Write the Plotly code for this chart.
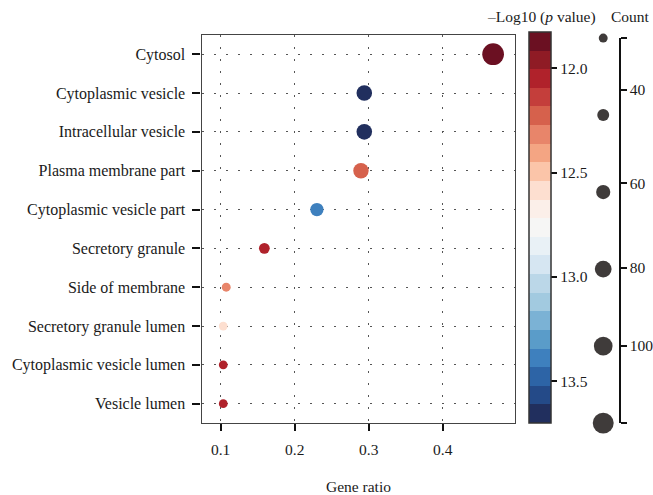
import plotly.graph_objects as go

# ---------------- data ----------------
categories = ["Cytosol", "Cytoplasmic vesicle", "Intracellular vesicle", "Plasma membrane part",
              "Cytoplasmic vesicle part", "Secretory granule", "Side of membrane",
              "Secretory granule lumen", "Cytoplasmic vesicle lumen", "Vesicle lumen"]
gene_ratio = [0.468, 0.294, 0.294, 0.2895, 0.230, 0.159, 0.1075, 0.1035, 0.1035, 0.1035]
neg_log10_p = [11.87, 13.65, 13.65, 12.23, 13.40, 12.05, 12.32, 12.58, 12.05, 12.05]
counts = [110, 69, 69, 68, 54, 37, 25, 24, 24, 24]

x_ticks = [0.1, 0.2, 0.3, 0.4]
cbar_ticks = [12.0, 12.5, 13.0, 13.5]
count_ticks = [40, 60, 80, 100]
count_axis_ends = [30, 121]
legend_counts = [25, 45, 60, 77, 90, 105]

# 21 discrete colour bands, top (low value) -> bottom (high value)
band_colors = ["#6b1022", "#8f1b25", "#b0222b", "#c43e3b", "#d6614c", "#e8856a", "#f4a583",
               "#fbc5a9", "#fddfd0", "#fbefe9", "#f6f6f5", "#e9f1f6", "#d6e6f2", "#bbd7e8",
               "#a2cae0", "#7bb2d5", "#5a9cc9", "#3e80be", "#2d64a6", "#244a88", "#212f5e"]
cbar_range = [11.827, 13.70]

# ---------------- styling helpers ----------------
W, H = 653, 495
FONT = "Liberation Serif"
TXT = "#1a1a1a"
FS = 15.5


def px_x(p):
    return p / W


def px_y(p):
    return 1 - p / H


def size_of(c):
    return 5.2 + 0.15 * c


POW = 0.7

# discrete colorscale on negated values (so low values sit at the top of the bar)
rev = band_colors[::-1]
n = len(rev)
colorscale = []
for i, col in enumerate(rev):
    colorscale.append([i / n, col])
    colorscale.append([(i + 1) / n, col])

fig = go.Figure()

fig.add_trace(go.Scatter(
    x=gene_ratio, y=categories, mode="markers",
    marker=dict(
        size=[size_of(c) for c in counts], sizemode="diameter",
        color=[-v for v in neg_log10_p], colorscale=colorscale,
        cmin=-cbar_range[1], cmax=-cbar_range[0], opacity=1,
        line=dict(width=0),
        colorbar=dict(
            x=px_x(531.7), xanchor="left", xpad=0,
            y=px_y(425.7), yanchor="bottom", ypad=0,
            lenmode="pixels", len=390.7,
            thicknessmode="pixels", thickness=21.6,
            outlinewidth=1.5, outlinecolor="#333333",
            tickvals=[-t for t in cbar_ticks],
            ticktext=[f"{t:.1f}" for t in cbar_ticks],
            ticks="outside", ticklen=6, tickwidth=2, tickcolor="#111",
            tickfont=dict(family=FONT, size=FS, color=TXT),
        ),
    ),
    showlegend=False, cliponaxis=False,
))

# size legend dots
fig.add_trace(go.Scatter(
    x=[0] * len(legend_counts), y=list(range(len(legend_counts))), mode="markers",
    marker=dict(size=[size_of(c) for c in legend_counts], sizemode="diameter",
                color="#3f3b3a", opacity=1, line=dict(width=0)),
    xaxis="x3", yaxis="y4", showlegend=False, cliponaxis=False, hoverinfo="skip",
))

# invisible trace to activate the count axis
fig.add_trace(go.Scatter(
    x=[0, 0], y=[c ** POW for c in count_axis_ends], mode="markers",
    marker=dict(size=0.1, opacity=0), xaxis="x3", yaxis="y3",
    showlegend=False, hoverinfo="skip",
))

dom_x = [px_x(202.5), px_x(517.7)]
dom_y = [px_y(425.7), px_y(35)]

fig.update_layout(
    width=W, height=H,
    margin=dict(l=0, r=0, t=0, b=0),
    paper_bgcolor="white", plot_bgcolor="white",
    font=dict(family=FONT, size=FS, color=TXT),
    xaxis=dict(
        domain=dom_x, range=[0.0742, 0.498],
        tickvals=x_ticks, ticktext=[f"{t:.1f}" for t in x_ticks],
        ticks="outside", ticklen=7, tickwidth=2, tickcolor="#111",
        showline=True, linecolor="#444", linewidth=1.3, mirror=True,
        showgrid=True, gridcolor="#555", gridwidth=1.3, griddash="2px,10px",
        zeroline=False, ticklabelstandoff=5,
        tickfont=dict(family=FONT, size=FS, color=TXT),
        title=dict(text="Gene ratio", font=dict(family=FONT, size=FS, color=TXT), standoff=26),
    ),
    yaxis=dict(
        domain=dom_y, type="category",
        categoryorder="array", categoryarray=categories,
        range=[len(categories) - 0.5, -0.5],
        ticks="outside", ticklen=8, tickwidth=2, tickcolor="#111",
        showline=True, linecolor="#444", linewidth=1.3, mirror=True,
        showgrid=True, gridcolor="#555", gridwidth=1.3, griddash="2px,10px",
        zeroline=False, ticklabelstandoff=4,
        tickfont=dict(family=FONT, size=16, color=TXT),
    ),
    xaxis3=dict(domain=[px_x(595), px_x(617)], range=[-1, 1], anchor="y4",
                visible=False),
    yaxis4=dict(domain=[px_y(425.7), px_y(38.3)], range=[len(legend_counts) - 1, 0],
                anchor="x3", visible=False),
    yaxis3=dict(
        domain=[px_y(425.7), px_y(38.3)],
        range=[count_axis_ends[1] ** POW, count_axis_ends[0] ** POW],
        anchor="free", position=px_x(622.7), side="right", overlaying="y4",
        tickvals=[c ** POW for c in count_axis_ends + count_ticks],
        ticktext=["", ""] + [str(c) for c in count_ticks],
        ticks="outside", ticklen=6, tickwidth=2, tickcolor="#111",
        showline=True, linecolor="#111", linewidth=1.5,
        showgrid=False, zeroline=False,
        tickfont=dict(family=FONT, size=FS, color=TXT),
    ),
    annotations=[
        dict(text="\u2013Log10 (<i>p</i> value)", x=px_x(544), y=px_y(17),
             xref="paper", yref="paper", xanchor="center", yanchor="middle",
             showarrow=False, font=dict(family=FONT, size=FS, color=TXT)),
        dict(text="Count", x=px_x(633), y=px_y(17),
             xref="paper", yref="paper", xanchor="center", yanchor="middle",
             showarrow=False, font=dict(family=FONT, size=FS, color=TXT)),
    ],
)

fig.write_html("out.html", config={"displayModeBar": False},
               post_script="document.body.style.margin='0';document.body.style.overflow='hidden';")
